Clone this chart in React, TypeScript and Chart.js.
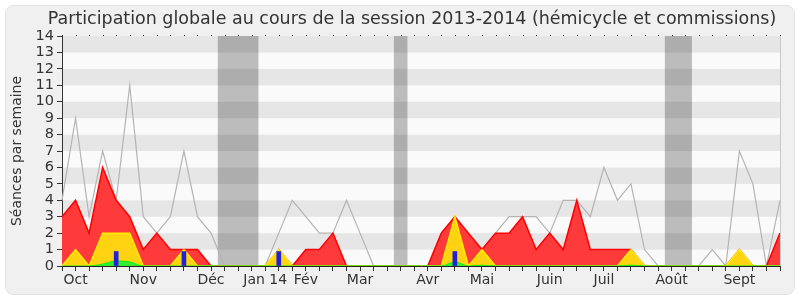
import { useEffect, useRef } from "react";
import { Chart, registerables } from "chart.js";

Chart.register(...registerables);

const titleText = "Participation globale au cours de la session 2013-2014 (hémicycle et commissions)";
const yAxisTitle = "Séances par semaine";

const weekCount = 54;
const monthNames = ["Oct", "Nov", "Déc", "Jan 14", "Fév", "Mar", "Avr", "Mai", "Juin", "Juil", "Août", "Sept"];
const monthWeekIndex = [1, 6, 11, 15, 18, 22, 27, 31, 36, 40, 45, 50];

// grey line: median activity
const medianActivity = [4, 9, 3, 7, 4, 11, 3, 2, 3, 7, 3, 2, 0, 0, 0, 0, 2, 4, 3, 2, 2, 4, 2, 0, 0, 0, 0, 0, 2, 3, 2, 1, 2, 3, 3, 3, 2, 4, 4, 3, 6, 4, 5, 1, 0, 0, 0, 0, 1, 0, 7, 5, 0, 4];
// red area
const presences = [3, 4, 2, 6, 4, 3, 1, 2, 1, 1, 1, 0, 0, 0, 0, 0, 1, 0, 1, 1, 2, 0, 0, 0, 0, 0, 0, 0, 2, 3, 2, 1, 2, 2, 3, 1, 2, 1, 4, 1, 1, 1, 1, 0, 0, 0, 0, 0, 0, 0, 1, 0, 0, 2];
// yellow area
const participations = [0, 1, 0, 2, 2, 2, 0, 0, 0, 1, 0, 0, 0, 0, 0, 0, 1, 0, 0, 0, 0, 0, 0, 0, 0, 0, 0, 0, 0, 3, 0, 1, 0, 0, 0, 0, 0, 0, 0, 0, 0, 0, 1, 0, 0, 0, 0, 0, 0, 0, 1, 0, 0, 0];
// green area
const interventions = [0, 0, 0, 0.12, 0.3, 0.25, 0, 0, 0, 0, 0, 0, 0, 0, 0, 0, 0, 0, 0, 0, 0, 0, 0, 0, 0, 0, 0, 0, 0, 0.25, 0, 0.05, 0, 0, 0, 0, 0, 0, 0, 0, 0, 0, 0.05, 0, 0, 0, 0, 0, 0, 0, 0, 0, 0, 0];
// blue bars
const questions = [null, null, null, null, 0.88, null, null, null, null, 0.88, null, null, null, null, null, null, 0.88, null, null, null, null, null, null, null, null, null, null, null, null, 0.88, null, null, null, null, null, null, null, null, null, null, null, null, null, null, null, null, null, null, null, null, null, null, null, null];
// vacation weeks (first, last index)
const vacationStart = [12, 25, 45];
const vacationEnd = [14, 25, 46];

const FONT = "'DejaVu Sans', Verdana, sans-serif";

const decorPlugin = {
  id: "decor",
  beforeDraw(chart: any) {
    const ctx = chart.ctx as CanvasRenderingContext2D;
    const { left, right, top, bottom } = chart.chartArea;
    const y = chart.scales.y;
    const x = chart.scales.x;
    ctx.save();
    ctx.fillStyle = "#ffffff";
    ctx.fillRect(0, 0, chart.width, chart.height);
    ctx.beginPath();
    (ctx as any).roundRect(5.5, 5.5, 789, 289, 8);
    ctx.fillStyle = "#f0f0f0";
    ctx.fill();
    ctx.strokeStyle = "#e2e2e2";
    ctx.lineWidth = 1;
    ctx.stroke();
    // stripes
    for (let v = 0; v < 14; v++) {
      const y0 = y.getPixelForValue(v + 1);
      const y1 = y.getPixelForValue(v);
      ctx.fillStyle = v % 2 === 1 ? "#e6e6e6" : "#fafafa";
      ctx.fillRect(left, y0, right - left, y1 - y0);
    }
    // vacation bands
    const step = x.getPixelForValue(1) - x.getPixelForValue(0);
    ctx.globalCompositeOperation = "multiply";
    ctx.fillStyle = "#c0c0c0";
    for (let k = 0; k < vacationStart.length; k++) {
      const x0 = x.getPixelForValue(vacationStart[k]) - step / 2;
      const x1 = x.getPixelForValue(vacationEnd[k]) + step / 2;
      ctx.fillRect(x0, top, x1 - x0, bottom - top);
    }
    ctx.globalCompositeOperation = "source-over";
    // title
    ctx.font = `16px ${FONT}`;
    const w = ctx.measureText(titleText).width;
    const size = (16 * 729) / w;
    ctx.font = `${size.toFixed(2)}px ${FONT}`;
    ctx.fillStyle = "#333333";
    ctx.textAlign = "center";
    ctx.textBaseline = "middle";
    ctx.fillText(titleText, 412, 19);
    ctx.restore();
  },
  afterDraw(chart: any) {
    const ctx = chart.ctx as CanvasRenderingContext2D;
    const { right, top, bottom } = chart.chartArea;
    const x = chart.scales.x;
    ctx.save();
    ctx.fillStyle = "#222222";
    for (let i = 0; i < weekCount; i++) {
      const px = Math.round(x.getPixelForValue(i));
      ctx.fillRect(px, top - 1, 1, 1);
    }
    ctx.strokeStyle = "#c8c8c8";
    ctx.lineWidth = 1;
    ctx.beginPath();
    ctx.moveTo(Math.round(right) + 0.5, top);
    ctx.lineTo(Math.round(right) + 0.5, bottom);
    ctx.stroke();
    ctx.restore();
  },
};

export default function App() {
  const ref = useRef<HTMLCanvasElement | null>(null);
  useEffect(() => {
    if (!ref.current) return;
    const labels: string[] = Array.from({ length: weekCount }, () => "");
    monthWeekIndex.forEach((idx, k) => (labels[idx] = monthNames[k]));
    const chart = new Chart(ref.current, {
      type: "line",
      data: {
        labels,
        datasets: [
          {
            type: "bar",
            data: questions as any,
            backgroundColor: "#2121dd",
            barThickness: 4,
            order: 0,
          } as any,
          {
            type: "line",
            data: interventions,
            borderColor: "#11ee11",
            backgroundColor: "#33ee33",
            borderWidth: 1,
            fill: "origin",
            pointRadius: 0,
            cubicInterpolationMode: "monotone",
            order: 1,
          },
          {
            type: "line",
            data: participations,
            borderColor: "#ffee00",
            backgroundColor: "#ffd312",
            borderWidth: 1.5,
            fill: "origin",
            pointRadius: 0,
            tension: 0,
            order: 2,
          },
          {
            type: "line",
            data: presences,
            borderColor: "#ff0000",
            backgroundColor: "#ff3a3a",
            borderWidth: 1.5,
            fill: "origin",
            pointRadius: 0,
            tension: 0,
            order: 3,
          },
          {
            type: "line",
            data: medianActivity,
            borderColor: "#b4b4b4",
            borderWidth: 1.2,
            fill: false,
            pointRadius: 0,
            tension: 0,
            order: 4,
          },
        ],
      },
      options: {
        animation: false,
        responsive: false,
        events: [],
        layout: { padding: { top: 36, right: 20, left: 0, bottom: 0 } },
        plugins: {
          legend: { display: false },
          tooltip: { enabled: false },
          title: { display: false },
        },
        scales: {
          x: {
            type: "category",
            offset: false,
            grid: {
              display: true,
              drawOnChartArea: false,
              drawTicks: true,
              tickLength: 5,
              color: "#333333",
              offset: false,
            },
            border: { display: true, color: "#222222", width: 1 },
            ticks: {
              autoSkip: false,
              maxRotation: 0,
              minRotation: 0,
              padding: 1,
              color: "#333333",
              font: { family: FONT, size: 14 },
            },
            afterFit(scale: any) {
              scale.height = 34;
            },
          },
          y: {
            min: 0,
            max: 14,
            grid: {
              display: true,
              drawOnChartArea: false,
              tickLength: 5,
              color: "#333333",
            },
            border: { display: true, color: "#333333", width: 1 },
            ticks: {
              stepSize: 1,
              autoSkip: false,
              padding: 3,
              color: "#333333",
              font: { family: FONT, size: 14.5 },
            },
            title: {
              display: true,
              text: yAxisTitle,
              color: "#333333",
              font: { family: FONT, size: 14 },
              padding: { top: 9, bottom: 0 },
            },
            afterFit(scale: any) {
              scale.width = 62;
            },
          },
        },
      },
      plugins: [decorPlugin],
    });
    return () => chart.destroy();
  }, []);
  return (
    <div style={{ position: "absolute", left: 0, top: 0, width: 800, height: 300 }}>
      <canvas ref={ref} width={800} height={300} />
    </div>
  );
}
